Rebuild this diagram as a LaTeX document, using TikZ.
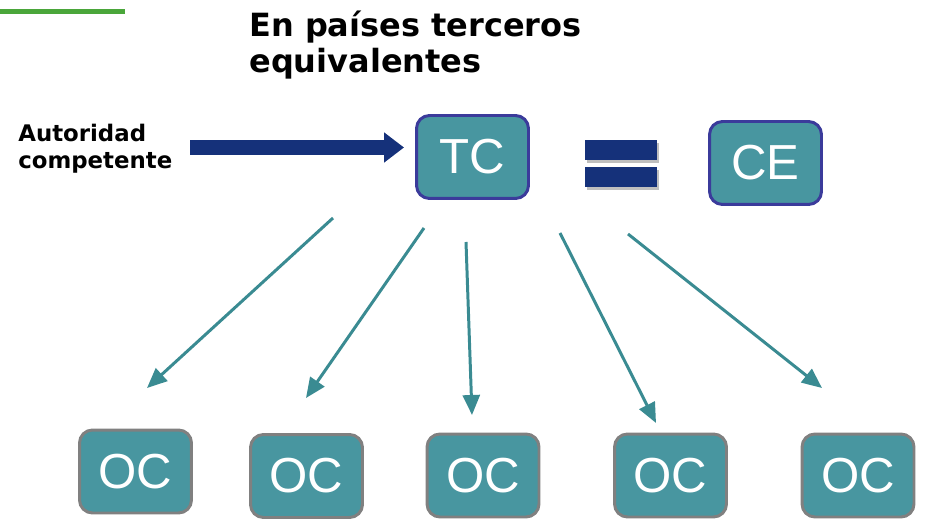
\documentclass[tikz,border=0pt]{standalone}
\usepackage{fontspec}
\setmainfont{Liberation Sans}
\newfontfamily\headfont{DejaVu Sans}
\usetikzlibrary{arrows.meta}
\definecolor{tealbox}{HTML}{4896A0}
\definecolor{indigoline}{HTML}{3B3B9B}
\definecolor{grayline}{HTML}{808080}
\definecolor{tealarrow}{HTML}{3A8B92}
\definecolor{navy}{HTML}{15317A}
\definecolor{bargreen}{HTML}{4AA63A}
\tikzset{
  box/.style={draw, rounded corners=0.26cm, fill=tealbox, line width=1.7pt,
    minimum width=2.24cm, minimum height=1.66cm, inner sep=0pt,
    text=white, font=\fontsize{28}{30}\selectfont},
  topbox/.style={box, draw=indigoline},
  ocbox/.style={box, draw=grayline},
  link/.style={draw=tealarrow, line width=1.7pt,
    -{Triangle[length=0.4cm, width=0.34cm]}},
  bigarrow/.style={draw=navy, line width=0.3cm,
    -{Triangle[length=0.4cm, width=0.58cm]}},
}
\begin{document}
\begin{tikzpicture}[x=0.02cm, y=-0.02cm]
      \useasboundingbox (0,0) rectangle (932,526);
      % top bar and title
      \fill [bargreen] (0,9.5) rectangle (125,14.5);
      \node (title) [anchor=north west, inner sep=0pt, align=left,
        font=\headfont\bfseries\fontsize{18.2}{20}\selectfont] at (249,11)
        {En países terceros\\equivalentes};
      \node (auth) [anchor=west, inner sep=0pt, align=left,
        font=\headfont\bfseries\fontsize{13}{15.5}\selectfont] at (18,148.5)
        {Autoridad\\competente};
      % boxes
      \node (tc) [topbox] at (472.5,157) {TC};
      \node (ce) [topbox] at (765.5,163) {CE};
      \node (oc1) [ocbox] at (135.5,471.5) {OC};
      \node (oc2) [ocbox] at (306.5,476) {OC};
      \node (oc3) [ocbox] at (483,475.5) {OC};
      \node (oc4) [ocbox] at (670.5,475.5) {OC};
      \node (oc5) [ocbox] at (858,475.5) {OC};
      % equals sign
      \fill [black!25] (587,143) rectangle (659,163);
      \fill [black!25] (587,170) rectangle (659,190);
      \fill [navy] (585,140) rectangle (657,160);
      \fill [navy] (585,167) rectangle (657,187);
      % arrows
      \coordinate (a0) at (190,147.5);
      \draw [bigarrow, shorten >=0.22cm] (a0) -- (a0 -| tc.west);
      \coordinate (s1) at (333,218);
      \coordinate (e1) at (147,388);
      \coordinate (s2) at (424,228);
      \coordinate (e2) at (306,398);
      \coordinate (s3) at (466,242);
      \coordinate (e3) at (472,415);
      \coordinate (s4) at (560,233);
      \coordinate (e4) at (656,423);
      \coordinate (s5) at (628,234);
      \coordinate (e5) at (822,388);
      \draw [link] (s1) -- (e1);
      \draw [link] (s2) -- (e2);
      \draw [link] (s3) -- (e3);
      \draw [link] (s4) -- (e4);
      \draw [link] (s5) -- (e5);
    \end{tikzpicture}
\end{document}
